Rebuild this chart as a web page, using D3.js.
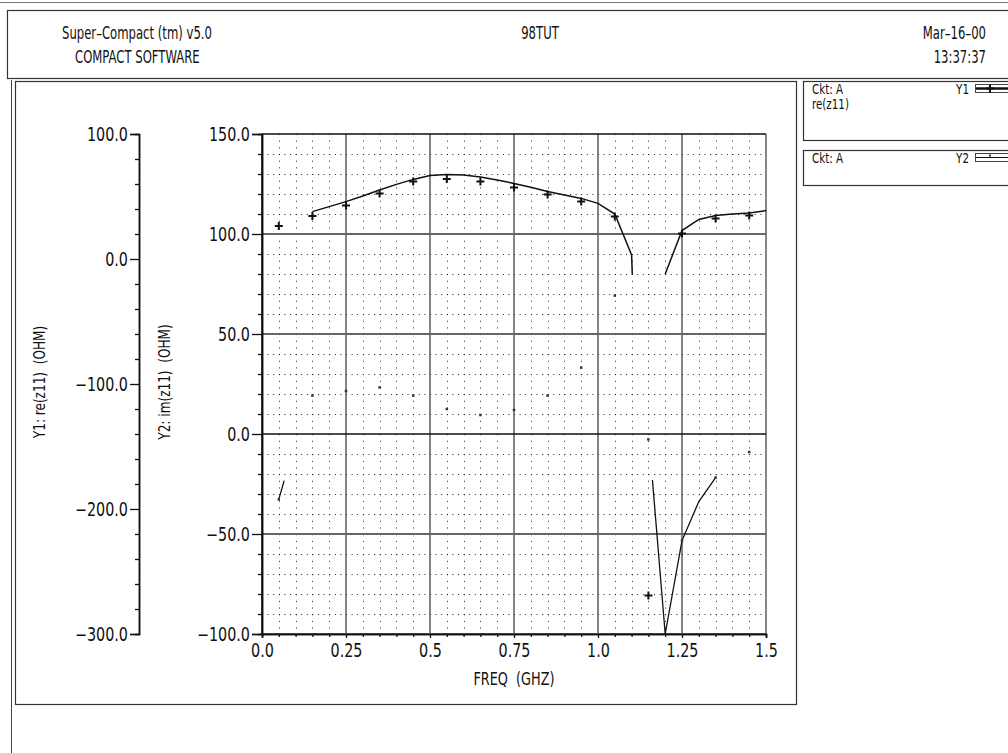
<!DOCTYPE html>
<html lang="en">
<head>
<meta charset="UTF-8">
<title>98TUT</title>
<script src="https://d3js.org/d3.v7.min.js"></script>
<style>
    body { margin: 0; background: #fff; }
    svg text { font-family: "Liberation Sans Narrow", "DejaVu Sans Condensed", "DejaVu Sans", sans-serif; font-stretch: condensed; fill: #111; white-space: pre; }
    .tick text { font-size: 19px; }
</style>
</head>
<body>
<div id="chart"></div>
<script>
// frequency axis (GHz)
var freqTicks = [0, 0.25, 0.5, 0.75, 1.0, 1.25, 1.5];
var freqTickLabels = ["0.0", "0.25", "0.5", "0.75", "1.0", "1.25", "1.5"];
var y1Ticks = [100, 0, -100, -200, -300];
var y2Ticks = [150, 100, 50, 0, -50, -100];

// curve with "+" markers (values read on the gridded Y2 scale)
var curveAFreq = [0.15, 0.2, 0.25, 0.3, 0.35, 0.4, 0.45, 0.5, 0.55, 0.6, 0.65, 0.7, 0.75, 0.8, 0.85, 0.9, 0.95, 1.0, 1.05, 1.1, 1.102, null,
                  1.2, 1.25, 1.3, 1.35, 1.4, 1.45, 1.5];
var curveAVal = [111.2, 113.7, 116.2, 119.0, 122.0, 124.8, 127.3, 129.3, 129.8, 129.5, 128.5, 127.0, 125.3, 123.4, 121.3, 119.5, 117.8, 115.3, 110.0, 89.5, 80, null,
                 80, 101.7, 107.3, 109.2, 110.0, 110.5, 111.7];
var plusFreq = [0.05, 0.15, 0.25, 0.35, 0.45, 0.55, 0.65, 0.75, 0.85, 0.95, 1.05, 1.15, 1.25, 1.35, 1.45];
var plusVal = [104, 109, 114.2, 120.3, 126.2, 127.5, 126.2, 123.3, 119.8, 116.2, 108.7, -80.8, 100.3, 107.7, 109.2];

// curve with small dot markers
var curveBFreq = [0.05, 0.066, null, 1.162, 1.2, 1.25, 1.3, 1.35];
var curveBVal = [-32.7, -23.3, null, -23, -100, -53.3, -33.8, -21.8];
var dotFreq = [0.05, 0.15, 0.25, 0.35, 0.45, 0.55, 0.65, 0.75, 0.85, 0.95, 1.05, 1.15, 1.25, 1.35, 1.45];
var dotVal = [-32.7, 19.2, 21.5, 23.3, 19.2, 12.5, 9.5, 12, 19.2, 33.2, 69.2, -2.7, -53.3, -21.8, -9];

var W = 1008, H = 753;
var svg = d3.select("#chart").append("svg").attr("width", W).attr("height", H);

var x = d3.scaleLinear().domain([0, 1.5]).range([262, 766]);
var y2 = d3.scaleLinear().domain([-100, 150]).range([634, 134]);
var y1 = d3.scaleLinear().domain([-300, 100]).range([634, 134]);

// the plotter font is narrow: squeeze text horizontally about its anchor point
function squeeze(sel, k) {
    sel.each(function() {
        var ax = +this.getAttribute("x") || 0;
        var t = this.getAttribute("transform") || "";
        d3.select(this).attr("transform", t + " translate(" + ax + ",0) scale(" + k + ",1) translate(" + (-ax) + ",0)");
    });
}

// page frames
svg.append("line").attr("x1", 0).attr("x2", W).attr("y1", 2.5).attr("y2", 2.5).attr("stroke", "#777").attr("stroke-width", 1);
svg.append("rect").attr("x", 7.5).attr("y", 10.5).attr("width", W).attr("height", 68).attr("fill", "none").attr("stroke", "#333").attr("stroke-width", 1.2);
svg.append("line").attr("x1", 11.5).attr("x2", 11.5).attr("y1", 80).attr("y2", H).attr("stroke", "#444");
svg.append("rect").attr("x", 15.5).attr("y", 81.5).attr("width", 781).attr("height", 623).attr("fill", "none").attr("stroke", "#333").attr("stroke-width", 1.2);

// header text
var head = svg.append("g").style("font-size", "18px");
head.append("text").attr("x", 62).attr("y", 39).text("Super–Compact (tm) v5.0");
head.append("text").attr("x", 75).attr("y", 63).text("COMPACT SOFTWARE");
head.append("text").attr("x", 540).attr("y", 39).attr("text-anchor", "middle").text("98TUT");
head.append("text").attr("x", 986).attr("y", 39).attr("text-anchor", "end").text("Mar–16–00");
head.append("text").attr("x", 986).attr("y", 63).attr("text-anchor", "end").text("13:37:37");
squeeze(head.selectAll("text"), 0.72);

// legend boxes
var legends = [{y: 81.5, h: 59, key: "Y1", lines: ["Ckt: A", "re(z11)"], plus: true},
               {y: 150.5, h: 35, key: "Y2", lines: ["Ckt: A"], plus: false}];
legends.forEach(function(l) {
    var g = svg.append("g").style("font-size", "14px");
    g.append("rect").attr("x", 803.5).attr("y", l.y).attr("width", 220).attr("height", l.h).attr("fill", "none").attr("stroke", "#333").attr("stroke-width", 1.2);
    l.lines.forEach(function(t, i) { g.append("text").attr("x", 812).attr("y", l.y + 13 + i * 15).text(t); });
    g.append("text").attr("x", 969).attr("y", l.y + 13).attr("text-anchor", "end").text(l.key);
    squeeze(g.selectAll("text"), 0.82);
    g.append("rect").attr("x", 975.5).attr("y", l.y + 3).attr("width", 40).attr("height", 8).attr("fill", "#fff").attr("stroke", "#444");
    g.append("line").attr("x1", 976).attr("x2", 1008).attr("y1", l.y + 7).attr("y2", l.y + 7).attr("stroke", "#111").attr("stroke-width", l.plus ? 2.5 : 1);
    if (l.plus) {
        g.append("path").attr("d", "M986," + (l.y + 7) + "h8M990," + (l.y + 3) + "v8").attr("stroke", "#111").attr("stroke-width", 2);
    } else {
        g.append("rect").attr("x", 989).attr("y", l.y + 4).attr("width", 2).attr("height", 2).attr("fill", "#333");
    }
});

// minor dotted grid
var minorX = d3.range(1, 30).map(function(i) { return i * 0.05; }).filter(function(v, i) { return (i + 1) % 5 !== 0; });
var minorY = d3.range(-9, 15).map(function(i) { return i * 10; }).filter(function(v) { return v % 50 !== 0; });
var grid = svg.append("g");
grid.selectAll(".mx").data(minorX).enter().append("line")
    .attr("x1", function(d) { return Math.round(x(d)) + 0.5; }).attr("x2", function(d) { return Math.round(x(d)) + 0.5; })
    .attr("y1", y2(150)).attr("y2", y2(-100))
    .attr("stroke", "#222").attr("stroke-width", 1).attr("stroke-dasharray", "1,5.67");
grid.selectAll(".my").data(minorY).enter().append("line")
    .attr("x1", x(0)).attr("x2", x(1.5))
    .attr("y1", function(d) { return y2(d) + 0.5; }).attr("y2", function(d) { return y2(d) + 0.5; })
    .attr("stroke", "#222").attr("stroke-width", 1).attr("stroke-dasharray", "1,4.6");

// major grid
grid.selectAll(".Mx").data(freqTicks).enter().append("line")
    .attr("x1", function(d) { return x(d); }).attr("x2", function(d) { return x(d); })
    .attr("y1", y2(150)).attr("y2", y2(-100))
    .attr("stroke", function(d) { return d === 0 ? "#111" : "#444"; }).attr("stroke-width", function(d) { return d === 0 ? 1.5 : 1.3; });
grid.selectAll(".My").data(y2Ticks).enter().append("line")
    .attr("x1", x(0)).attr("x2", x(1.5))
    .attr("y1", function(d) { return y2(d); }).attr("y2", function(d) { return y2(d); })
    .attr("stroke", function(d) { return d === 0 || d === 150 ? "#111" : "#666"; })
    .attr("stroke-width", function(d) { return d === 0 || d === 150 ? 1.5 : 2; });

// Y2 axis
svg.append("g").attr("transform", "translate(" + x(0) + ",0)")
    .call(d3.axisLeft(y2).tickValues(y2Ticks).tickSize(10).tickPadding(2).tickFormat(d3.format(".1f")));
svg.append("g").attr("transform", "translate(" + x(0) + ",0)")
    .call(d3.axisLeft(y2).tickValues(minorY).tickSize(4).tickFormat(""));

// Y1 axis
svg.append("g").attr("transform", "translate(139,0)")
    .call(d3.axisLeft(y1).tickValues(y1Ticks).tickSize(9).tickPadding(2).tickFormat(d3.format(".1f")));
svg.append("g").attr("transform", "translate(139,0)")
    .call(d3.axisLeft(y1).tickValues(d3.range(-280, 100, 20).filter(function(v) { return v % 100 !== 0; })).tickSize(4).tickFormat(""));

// X axis
svg.append("g").attr("transform", "translate(0," + y2(-100) + ")")
    .call(d3.axisBottom(x).tickValues(freqTicks).tickSize(4).tickPadding(6)
        .tickFormat(function(d, i) { return freqTickLabels[i]; }));
svg.append("g").attr("transform", "translate(0," + y2(-100) + ")")
    .call(d3.axisBottom(x).tickValues(minorX).tickSize(3).tickFormat(""));

svg.selectAll(".domain").attr("stroke", "#111").attr("stroke-width", 1.5);
svg.selectAll(".tick line").attr("stroke", "#111").attr("stroke-width", 1.3);
svg.selectAll(".tick text").attr("fill", "#111");
squeeze(svg.selectAll(".tick text"), 0.84);

// axis titles
var titles = svg.append("g");
titles.append("text").attr("text-anchor", "middle").attr("x", x(0.75)).attr("y", 685).style("font-size", "17px").text("FREQ  (GHZ)");
titles.append("text").attr("text-anchor", "middle").attr("transform", "translate(45,382)rotate(-90)").style("font-size", "16px").text("Y1: re(z11)  (OHM)");
titles.append("text").attr("text-anchor", "middle").attr("transform", "translate(170,382)rotate(-90)").style("font-size", "16px").text("Y2: im(z11)  (OHM)");
squeeze(titles.selectAll("text"), 0.84);

// series
var line = d3.line().defined(function(d) { return d[0] !== null; })
    .x(function(d) { return x(d[0]); }).y(function(d) { return y2(d[1]); });
var curveA = curveAFreq.map(function(f, i) { return [f, curveAVal[i]]; });
var curveB = curveBFreq.map(function(f, i) { return [f, curveBVal[i]]; });

svg.append("path").attr("d", line(curveA)).attr("fill", "none").attr("stroke", "#111").attr("stroke-width", 1.5);
svg.append("path").attr("d", line(curveB)).attr("fill", "none").attr("stroke", "#111").attr("stroke-width", 1.3);

svg.append("g").selectAll("path").data(plusFreq).enter().append("path")
    .attr("d", function(d, i) {
        var px = x(d), py = y2(plusVal[i]);
        return "M" + (px - 4) + "," + py + "h8M" + px + "," + (py - 4) + "v8";
    })
    .attr("stroke", "#111").attr("stroke-width", 2);

svg.append("g").selectAll("rect").data(dotFreq).enter().append("rect")
    .attr("x", function(d) { return x(d) - 1.25; })
    .attr("y", function(d, i) { return y2(dotVal[i]) - 1.25; })
    .attr("width", 2.5).attr("height", 2.5).attr("fill", "#333");
</script>
</body>
</html>
